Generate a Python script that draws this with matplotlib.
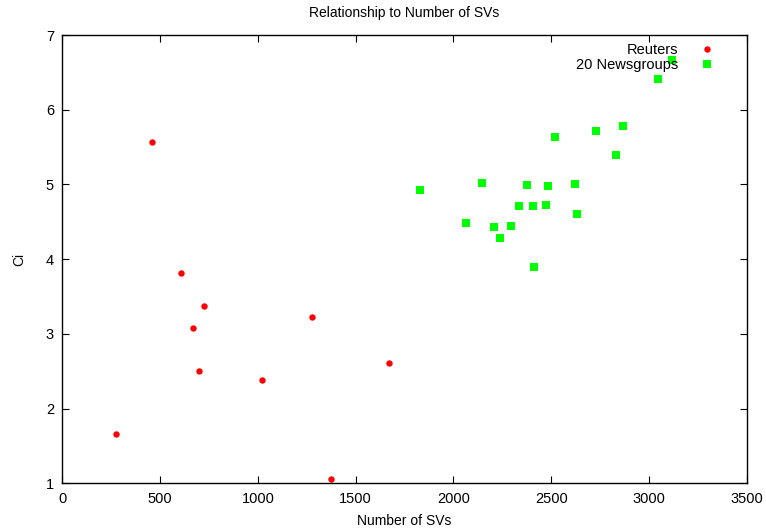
import matplotlib
matplotlib.use('Agg')
import matplotlib.pyplot as plt

plt.rcParams['font.family'] = ['Liberation Sans', 'DejaVu Sans']

# Reuters
reuters_x = [276, 457, 607, 726, 668, 699, 1023, 1279, 1372, 1669]
reuters_y = [1.66, 5.57, 3.82, 3.37, 3.08, 2.50, 2.38, 3.23, 1.06, 2.61]

# 20 Newsgroups
news_x = [1831, 2148, 2066, 2209, 2240, 2296, 2337, 2378, 2409, 2414,
          2475, 2486, 2521, 2624, 2634, 2731, 2833, 2869, 3048, 3120]
news_y = [4.92, 5.02, 4.49, 4.43, 4.29, 4.44, 4.71, 4.99, 4.71, 3.89,
          4.72, 4.98, 5.63, 5.00, 4.61, 5.71, 5.39, 5.78, 6.41, 6.67]

xticks = [0, 500, 1000, 1500, 2000, 2500, 3000, 3500]
yticks = [1, 2, 3, 4, 5, 6, 7]

fig = plt.figure(figsize=(7.66, 5.31), dpi=100)
ax = fig.add_axes([0.0813, 0.0898, 0.8935, 0.8442])

ax.plot(reuters_x, reuters_y, 'o', color='#ff0000', markersize=4.6,
        markeredgewidth=0, label='Reuters')
ax.plot(news_x, news_y, 's', color='#00ff00', markersize=5.2,
        markeredgewidth=0, label='20 Newsgroups')

ax.set_xlim(0, 3500)
ax.set_ylim(1, 7)
ax.set_xticks(xticks)
ax.set_yticks(yticks)
ax.tick_params(direction='in', top=True, right=True, length=5, width=0.8,
               labelsize=10.5, pad=6)
for s in ax.spines.values():
    s.set_linewidth(1.0)

ax.set_title('Relationship to Number of SVs', fontsize=10, pad=13)
ax.set_xlabel('Number of SVs', fontsize=10, labelpad=6)
ax.set_ylabel('Ci', fontsize=10, labelpad=14)

ax.legend(loc='upper right', frameon=False, markerfirst=False, fontsize=10.5,
          handletextpad=1.0, labelspacing=0.1, borderaxespad=0.4,
          bbox_to_anchor=(0.981, 1.009))

fig.savefig('out.png', dpi=100)
